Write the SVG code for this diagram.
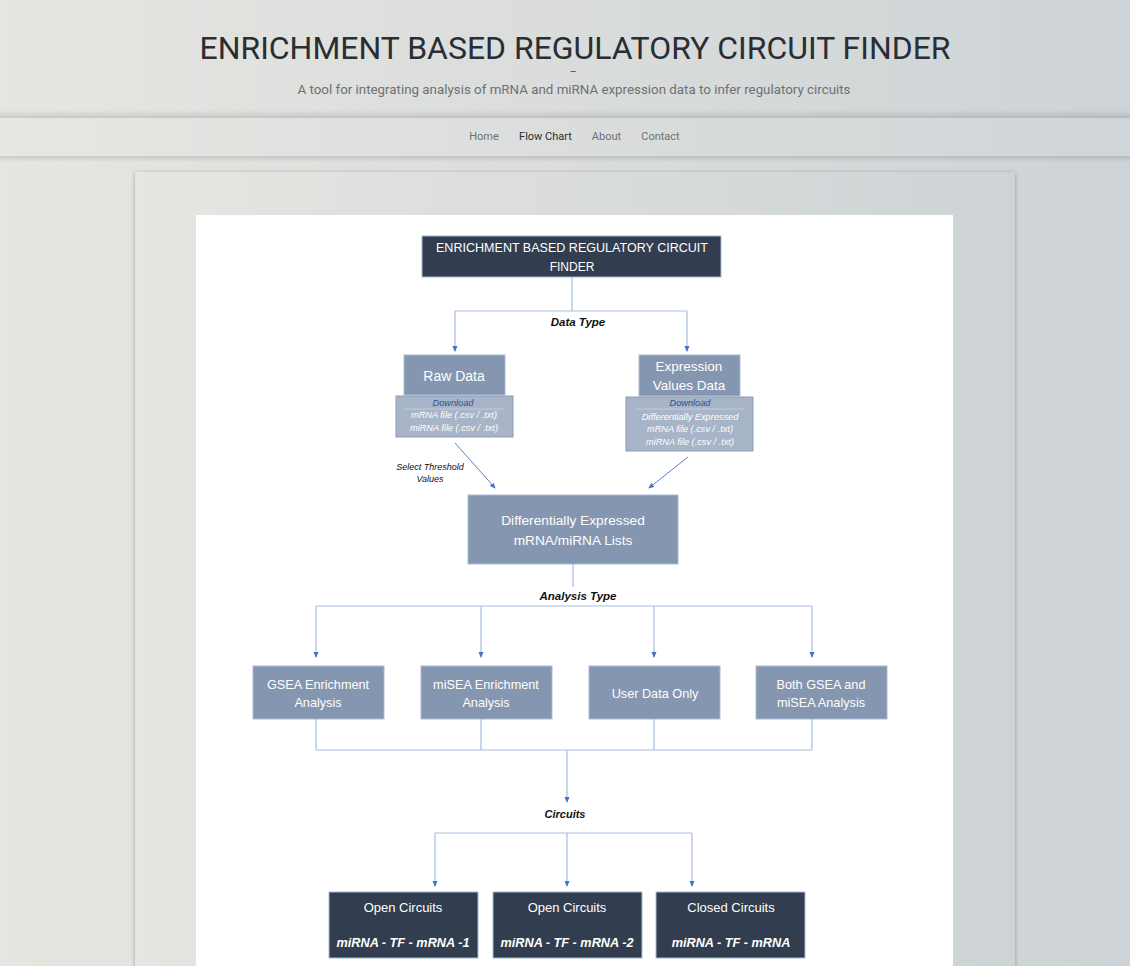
<svg xmlns="http://www.w3.org/2000/svg" width="1130" height="966" viewBox="0 0 1130 966">
<defs>
<linearGradient id="bg" x1="0" y1="0" x2="1" y2="0">
<stop offset="0" stop-color="#e6e6e1"/>
<stop offset="1" stop-color="#cdd3d6"/>
</linearGradient>
<linearGradient id="shTop" x1="0" y1="0" x2="0" y2="1">
<stop offset="0" stop-color="#000" stop-opacity="0"/>
<stop offset="1" stop-color="#000" stop-opacity="0.12"/>
</linearGradient>
<linearGradient id="shBot" x1="0" y1="0" x2="0" y2="1">
<stop offset="0" stop-color="#000" stop-opacity="0.12"/>
<stop offset="1" stop-color="#000" stop-opacity="0"/>
</linearGradient>
<filter id="cardsh" x="-5%" y="-5%" width="110%" height="110%">
<feGaussianBlur in="SourceAlpha" stdDeviation="2"/>
<feOffset dy="1"/>
<feComponentTransfer><feFuncA type="linear" slope="0.3"/></feComponentTransfer>
<feMerge><feMergeNode/><feMergeNode in="SourceGraphic"/></feMerge>
</filter>
<marker id="ad" markerWidth="6" markerHeight="6" refX="5" refY="3" orient="auto" markerUnits="userSpaceOnUse" viewBox="0 0 6 6">
<path d="M0,0.5 L6,3 L0,5.5 Z" fill="#4472c4"/>
</marker>
</defs>
<style>
.hdr{font-family:Roboto,"Liberation Sans",sans-serif}
.fc{font-family:"Liberation Sans",Arial,sans-serif}
.nav{font-family:Roboto,"Liberation Sans",sans-serif;font-size:11px;fill:#6d7175;text-anchor:middle}
.dark{fill:#323d4f;stroke:#a9bbd6;stroke-width:1}
.steel{fill:#8596b0;stroke:#a9bbd6;stroke-width:1}
.sub{fill:#a8b4c8;stroke:#8c9cb6;stroke-width:1}
.wt{fill:#ffffff;text-anchor:middle}
.lbl{fill:#111;font-weight:bold;font-style:italic;text-anchor:middle}
.small{fill:#ffffff;font-style:italic;text-anchor:middle;font-size:9.2px}
.dl{fill:#2f4f94;font-style:italic;text-anchor:middle;font-size:9.2px}
.ln{fill:none;stroke:#a6bde0;stroke-width:1.2}
.arr{fill:none;stroke:#a6bde0;stroke-width:1.2;marker-end:url(#ad)}
.diag{fill:none;stroke:#5b83c8;stroke-width:1;marker-end:url(#ad)}
</style>
<rect width="1130" height="966" fill="url(#bg)"/>
<!-- header -->
<rect x="0" y="110" width="1130" height="8" fill="url(#shTop)"/>
<rect x="0" y="119" width="1130" height="37" fill="url(#bg)"/>
<rect x="0" y="119" width="1130" height="37" fill="#ffffff" fill-opacity="0.05"/>
<rect x="0" y="156" width="1130" height="6" fill="url(#shBot)"/>
<text class="hdr" x="575" y="59" font-size="32" fill="#2a2e33" text-anchor="middle" textLength="751" lengthAdjust="spacingAndGlyphs">ENRICHMENT BASED REGULATORY CIRCUIT FINDER</text>
<text class="hdr" x="573" y="75" font-size="11" fill="#555" text-anchor="middle">–</text>
<text class="hdr" x="574" y="94" font-size="13" fill="#6d7175" text-anchor="middle" textLength="553" lengthAdjust="spacingAndGlyphs">A tool for integrating analysis of mRNA and miRNA expression data to infer regulatory circuits</text>
<text class="nav" x="484" y="140">Home</text>
<text class="nav" x="545.5" y="140" style="fill:#2a2e33">Flow Chart</text>
<text class="nav" x="606.5" y="140">About</text>
<text class="nav" x="660.5" y="140">Contact</text>
<!-- card -->
<rect x="135" y="172" width="880" height="820" rx="2" fill="url(#bg)" filter="url(#cardsh)"/>
<rect x="196" y="215" width="757" height="760" fill="#ffffff"/>

<g id="connectors">
<path class="ln" d="M572,277 V311 M455,311 H687"/>
<path class="arr" d="M455,311 V351"/>
<path class="arr" d="M687,311 V351"/>
<path class="diag" d="M455,443 L495,488"/>
<path class="diag" d="M688,457 L649,488"/>
<path class="ln" d="M573,564 V587 M316,606 H812"/>
<path class="arr" d="M316,606 V657"/>
<path class="arr" d="M481,606 V657"/>
<path class="arr" d="M654,606 V657"/>
<path class="arr" d="M812,606 V657"/>
<path class="ln" d="M316,719 V750 M481,719 V750 M654,719 V750 M812,719 V750 M316,750 H812"/>
<path class="arr" d="M567,750 V802"/>
<path class="ln" d="M435,833 H692"/>
<path class="arr" d="M435,833 V886"/>
<path class="arr" d="M567,833 V886"/>
<path class="arr" d="M692,833 V886"/>
</g>

<g class="fc">
<text class="lbl" x="578" y="326" font-size="11.5">Data Type</text>
<text x="430" y="470" font-size="9" fill="#111" font-style="italic" text-anchor="middle">Select Threshold</text>
<text x="430" y="482" font-size="9" fill="#111" font-style="italic" text-anchor="middle">Values</text>
<text class="lbl" x="578" y="600" font-size="11.5">Analysis Type</text>
<text class="lbl" x="565" y="818" font-size="11">Circuits</text>
</g>

<g id="n_top" class="fc">
<rect class="dark" x="422" y="236" width="299" height="41"/>
<text class="wt" x="572" y="252" font-size="12" textLength="272" lengthAdjust="spacingAndGlyphs">ENRICHMENT BASED REGULATORY CIRCUIT</text>
<text class="wt" x="572" y="271" font-size="12">FINDER</text>
</g>

<g id="n_raw" class="fc">
<rect class="steel" x="404" y="355" width="101" height="40"/>
<text class="wt" x="454" y="381" font-size="14">Raw Data</text>
<rect class="sub" x="396" y="396" width="117" height="41"/>
<text class="dl" x="453" y="406">Download</text>
<line x1="404" y1="409" x2="505" y2="409" stroke="#c9d2e0" stroke-width="0.8"/>
<text class="small" x="454" y="418">mRNA file (.csv / .txt)</text>
<text class="small" x="454" y="431">miRNA file (.csv / .txt)</text>
</g>

<g id="n_expr" class="fc">
<rect class="steel" x="639" y="355" width="101" height="41"/>
<text class="wt" x="689" y="371" font-size="13.5">Expression</text>
<text class="wt" x="689" y="390" font-size="13.5">Values Data</text>
<rect class="sub" x="626" y="397" width="127" height="54"/>
<text class="dl" x="690" y="406">Download</text>
<line x1="636" y1="409" x2="744" y2="409" stroke="#c9d2e0" stroke-width="0.8"/>
<text class="small" x="690" y="420">Differentially Expressed</text>
<text class="small" x="690" y="432">mRNA file (.csv / .txt)</text>
<text class="small" x="690" y="445">miRNA file (.csv / .txt)</text>
</g>

<g id="n_diff" class="fc">
<rect class="steel" x="468" y="495" width="210" height="69"/>
<text class="wt" x="573" y="525" font-size="13.7">Differentially Expressed</text>
<text class="wt" x="573" y="545" font-size="13.7">mRNA/miRNA Lists</text>
</g>

<g id="n_gsea" class="fc">
<rect class="steel" x="253" y="666" width="131" height="53"/>
<text class="wt" x="318" y="689" font-size="12.7">GSEA Enrichment</text>
<text class="wt" x="318" y="707" font-size="12.7">Analysis</text>
</g>
<g id="n_misea" class="fc">
<rect class="steel" x="421" y="666" width="131" height="53"/>
<text class="wt" x="486" y="689" font-size="12.7">miSEA Enrichment</text>
<text class="wt" x="486" y="707" font-size="12.7">Analysis</text>
</g>
<g id="n_user" class="fc">
<rect class="steel" x="589" y="666" width="131" height="53"/>
<text class="wt" x="655" y="698" font-size="12.7">User Data Only</text>
</g>
<g id="n_both" class="fc">
<rect class="steel" x="756" y="666" width="131" height="53"/>
<text class="wt" x="821" y="689" font-size="12.7">Both GSEA and</text>
<text class="wt" x="821" y="707" font-size="12.7">miSEA Analysis</text>
</g>

<g id="n_open1" class="fc">
<rect class="dark" x="329" y="892" width="149" height="66"/>
<text class="wt" x="403" y="912" font-size="13">Open Circuits</text>
<text class="wt" x="403" y="947" font-size="12.7" font-weight="bold" font-style="italic">miRNA - TF - mRNA -1</text>
</g>
<g id="n_open2" class="fc">
<rect class="dark" x="493" y="892" width="149" height="66"/>
<text class="wt" x="567" y="912" font-size="13">Open Circuits</text>
<text class="wt" x="567" y="947" font-size="12.7" font-weight="bold" font-style="italic">miRNA - TF - mRNA -2</text>
</g>
<g id="n_closed" class="fc">
<rect class="dark" x="656" y="892" width="149" height="66"/>
<text class="wt" x="731" y="912" font-size="13">Closed Circuits</text>
<text class="wt" x="731" y="947" font-size="12.7" font-weight="bold" font-style="italic">miRNA - TF - mRNA</text>
</g>
</svg>
